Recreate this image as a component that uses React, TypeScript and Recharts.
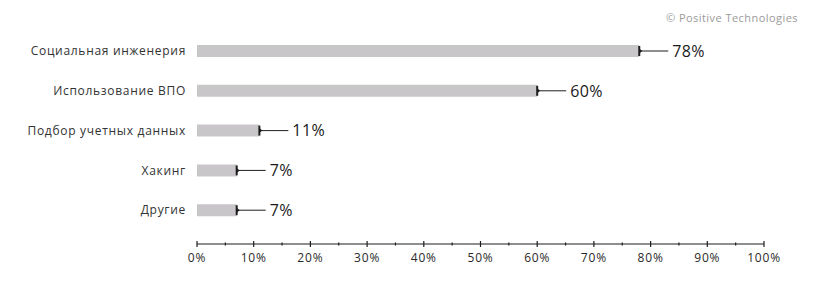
import { Bar, BarChart, LabelList, XAxis, YAxis } from "recharts";

const categories = [
  "Социальная инженерия",
  "Использование ВПО",
  "Подбор учетных данных",
  "Хакинг",
  "Другие",
];
const shares = [78, 60, 11, 7, 7];
const xTicks = [0, 5, 10, 15, 20, 25, 30, 35, 40, 45, 50, 55, 60, 65, 70, 75, 80, 85, 90, 95, 100];

const data = categories.map((name, i) => ({ name, value: shares[i] }));

const FONT = "'Open Sans', sans-serif";

function AxisTick(props: any) {
  const { x, y, payload } = props;
  const major = payload.value % 10 === 0;
  const h = major ? 3 : 1.5;
  return (
    <g>
      <line x1={x} x2={x} y1={y - h} y2={y + h} stroke="#1e1e1e" strokeWidth={1.2} />
      {major && (
        <text
          x={x}
          y={y + 18}
          textAnchor="middle"
          fontSize={12}
          letterSpacing={0.8}
          fill="#2a2a2a"
          fontFamily={FONT}
        >
          {payload.value}%
        </text>
      )}
    </g>
  );
}

function EndMark(props: any) {
  const { x, y, width, height, value } = props;
  const ex = x + width;
  const cy = y + height / 2;
  return (
    <g>
      <line x1={ex} x2={ex} y1={cy - 5} y2={cy + 5} stroke="#1e1e1e" strokeWidth={2} />
      <path d={`M${ex} ${cy - 2.5} L${ex + 3} ${cy} L${ex} ${cy + 2.5} Z`} fill="#1e1e1e" />
      <line x1={ex} x2={ex + 29} y1={cy} y2={cy} stroke="#1e1e1e" strokeWidth={1} />
      <text
        x={ex + 33}
        y={cy}
        dy="0.36em"
        fontSize={16}
        letterSpacing={0.4}
        fill="#1a1a1a"
        fontFamily={FONT}
      >
        {value}%
      </text>
    </g>
  );
}

export default function App() {
  return (
    <div style={{ position: "absolute", left: 0, top: 0, width: 827, height: 282, background: "#fff" }}>
      <div
        style={{
          position: "absolute",
          right: 29,
          top: 10,
          fontSize: 11,
          letterSpacing: 0.45,
          color: "#9a9a9a",
          fontFamily: FONT,
        }}
      >
        © Positive Technologies
      </div>
      <BarChart
        width={827}
        height={282}
        data={data}
        layout="vertical"
        margin={{ top: 31, right: 63, bottom: 8, left: 0 }}
      >
        <XAxis
          type="number"
          domain={[0, 100]}
          ticks={xTicks}
          interval={0}
          height={30}
          tick={<AxisTick />}
          tickLine={false}
          tickSize={0}
          tickMargin={0}
          axisLine={{ stroke: "#1e1e1e", strokeWidth: 1.2 }}
        />
        <YAxis
          type="category"
          dataKey="name"
          width={197}
          axisLine={false}
          tickLine={false}
          tickSize={0}
          tickMargin={11}
          padding={{ top: 0, bottom: 14 }}
          tick={{ fontSize: 12, fill: "#333", fontFamily: FONT, letterSpacing: 0.7 }}
        />
        <Bar dataKey="value" fill="#c9c6ca" barSize={12} isAnimationActive={false}>
          <LabelList dataKey="value" content={<EndMark />} />
        </Bar>
      </BarChart>
    </div>
  );
}
